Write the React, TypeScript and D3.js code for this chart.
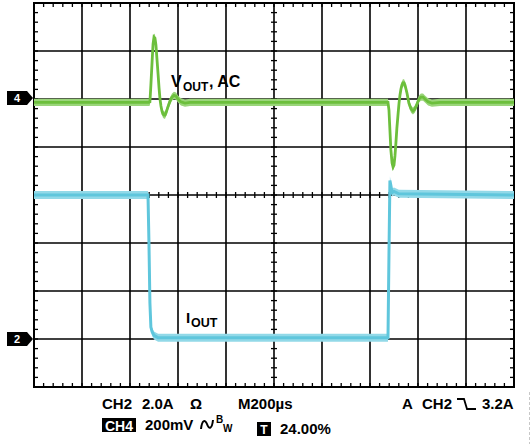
import React from "react";
import * as d3 from "d3";

// ---- data (read from the scope shot) ----
// time in microseconds (200 µs / div), VOUT in mV (AC coupled, 200 mV/div)
const vTimes = [0, 479, 483, 487, 492, 496, 500, 504, 508, 512, 517, 521, 525, 529, 533, 537, 542, 546, 550, 558, 567, 575, 583, 592, 600, 612, 629, 650,
  1475, 1479, 1483, 1487, 1492, 1496, 1500, 1504, 1508, 1512, 1517, 1521, 1525, 1529, 1533, 1537, 1542, 1546, 1554, 1562, 1571, 1579, 1587, 1596, 1604, 1612, 1621, 1629, 1642, 1658, 1692, 2000];
const vValues = [-14, -14, -12, 58, 154, 229, 258, 254, 225, 171, 104, 46, 0, -29, -50, -62, -67, -67, -58, -33, -8, 8, 15, 12, 0, -12, -17, -14,
  -14, -46, -129, -212, -267, -283, -275, -237, -183, -121, -62, -17, 17, 42, 58, 67, 67, 58, 25, -17, -42, -50, -42, -21, 0, 8, 8, 0, -12, -17, -14, -14];
// IOUT in amps (2.0 A/div)
const iTimes = [0, 475, 479, 483, 487, 492, 500, 517, 1471, 1475, 1479, 1483, 1487, 1492, 1500, 1520, 2000];
const iValues = [6.0, 6.0, 4.0, 1.5, 0.5, 0.3, 0.15, 0.05, 0.05, 0.05, 3.5, 6.6, 6.4, 6.1, 6.15, 6.05, 6.0];

const ch4Offset = 400; // mV (marker 4 at +2 div)
const ch2Offset = -6; // A (marker 2 at -3 div)
const xDivs = d3.range(0, 11);
const yDivs = d3.range(-4, 5);

const L = 34, R = 514, T = 3, B = 387;

export default function App() {
  const xT = d3.scaleLinear().domain([0, 2000]).range([L, R]);
  const xD = d3.scaleLinear().domain([0, 10]).range([L, R]);
  const yD = d3.scaleLinear().domain([-4, 4]).range([B, T]);
  const yV = d3.scaleLinear().domain([-800, 800]).range([B, T]);
  const yI = d3.scaleLinear().domain([-8, 8]).range([B, T]);

  const vPts = vTimes.map((t, i) => [t, vValues[i] + ch4Offset] as [number, number]);
  const iPts = iTimes.map((t, i) => [t, iValues[i] + ch2Offset] as [number, number]);

  const bandV = d3.area<[number, number]>().x(d => xT(d[0])).y0(d => yV(d[1]) - 3.6).y1(d => yV(d[1]) + 3.6);
  const lineV = d3.line<[number, number]>().x(d => xT(d[0])).y(d => yV(d[1]));
  const bandI = d3.area<[number, number]>().x(d => xT(d[0])).y0(d => yI(d[1]) - 4).y1(d => yI(d[1]) + 4);
  const lineI = d3.line<[number, number]>().x(d => xT(d[0])).y(d => yI(d[1]));

  const minorX = d3.range(0, 10.001, 0.2);
  const minorY = d3.range(-4, 4.001, 0.2);
  const cx = xD(5), cy = yD(0);

  const font = "'Liberation Sans', Arial, Helvetica, sans-serif";
  const m4y = yV(ch4Offset) - 1;
  const m2y = yI(ch2Offset);

  const marker = (y: number, label: string) => (
    <g>
      <path d={`M7,${y - 7} H27 L33,${y} L27,${y + 7} H7 Z`} fill="#000" />
      <text x={17} y={y + 4} fill="#fff" fontSize={11} fontWeight="bold" textAnchor="middle" fontFamily={font}>{label}</text>
    </g>
  );

  return (
    <svg width={531} height={444} style={{ position: "absolute", left: 0, top: 0, background: "#fff" }}>
      {/* grid */}
      {xDivs.map(d => (
        <line key={"gx" + d} x1={xD(d)} x2={xD(d)} y1={T} y2={B} stroke="#000" strokeWidth={1.6} />
      ))}
      {yDivs.map(d => (
        <line key={"gy" + d} x1={L} x2={R} y1={yD(d)} y2={yD(d)} stroke="#000" strokeWidth={1.6} />
      ))}
      {/* minor ticks */}
      {minorX.map((d, i) => (
        <g key={"mx" + i} stroke="#000" strokeWidth={1.3}>
          <line x1={xD(d)} x2={xD(d)} y1={T} y2={T + 4} />
          <line x1={xD(d)} x2={xD(d)} y1={B} y2={B - 4} />
          <line x1={xD(d)} x2={xD(d)} y1={cy - 3} y2={cy + 3} />
        </g>
      ))}
      {minorY.map((d, i) => (
        <g key={"my" + i} stroke="#000" strokeWidth={1.3}>
          <line x1={L} x2={L + 4} y1={yD(d)} y2={yD(d)} />
          <line x1={R} x2={R - 4} y1={yD(d)} y2={yD(d)} />
          <line x1={cx - 3} x2={cx + 3} y1={yD(d)} y2={yD(d)} />
        </g>
      ))}
      <rect x={L} y={T} width={R - L} height={B - T} fill="none" stroke="#000" strokeWidth={2} />

      {/* traces */}
      <path d={bandI(iPts) || ""} fill="#92d9e8" />
      <path d={lineI(iPts) || ""} fill="none" stroke="#5fc6dc" strokeWidth={3} />
      <path d={bandV(vPts) || ""} fill="#9ad57a" />
      <path d={lineV(vPts) || ""} fill="none" stroke="#6cbf3c" strokeWidth={2.8} />

      {/* labels on plot */}
      <g fontFamily={font} fontWeight="bold" fill="#000">
        <text x={171} y={87} fontSize={16}>V</text>
        <text x={183} y={91} fontSize={12}>OUT</text>
        <text x={209} y={87} fontSize={16}>, AC</text>
        <text x={186} y={323} fontSize={15}>I</text>
        <text x={191} y={327} fontSize={12.5}>OUT</text>
      </g>

      {marker(m4y, "4")}
      {marker(m2y, "2")}

      {/* status text */}
      <g fontFamily={font} fontWeight="bold" fill="#000" fontSize={15}>
        <text x={102} y={409}>CH2</text>
        <text x={142} y={409}>2.0A</text>
        <text x={190} y={409}>Ω</text>
        <text x={238} y={409}>M200µs</text>
        <text x={402} y={409}>A</text>
        <text x={422} y={409}>CH2</text>
        <text x={482} y={409}>3.2A</text>
        <rect x={102} y={418} width={34} height={14} fill="#000" />
        <text x={119} y={431} fill="#fff" fontSize={14} textAnchor="middle">CH4</text>
        <text x={145} y={430}>200mV</text>
        <text x={216} y={423} fontSize={10}>B</text>
        <text x={223} y={432} fontSize={10}>W</text>
        <rect x={257} y={422} width={14} height={14} fill="#000" />
        <text x={264} y={434} fill="#fff" fontSize={12} textAnchor="middle">T</text>
        <text x={280} y={434}>24.00%</text>
      </g>
      <path d="M457,399 H464 L467,409 H476" fill="none" stroke="#000" strokeWidth={1.8} />
      <path d="M201,429 C202,420 205,419 207,424 C209,430 212,429 213,420" fill="none" stroke="#000" strokeWidth={2} />
      <line x1={529.5} x2={529.5} y1={392} y2={444} stroke="#c8c8c8" strokeWidth={1} strokeDasharray="3,2" />
    </svg>
  );
}
